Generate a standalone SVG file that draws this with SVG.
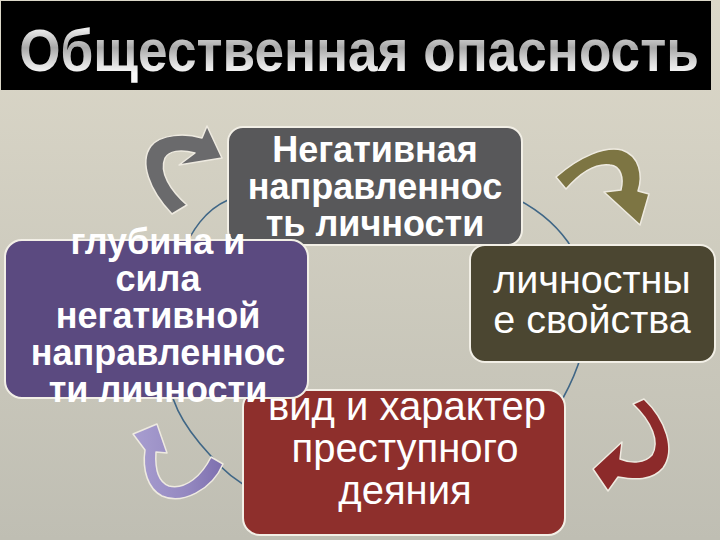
<svg xmlns="http://www.w3.org/2000/svg" width="720" height="540" viewBox="0 0 720 540">
<defs>
<linearGradient id="bg" x1="0" y1="0" x2="0" y2="1">
<stop offset="0" stop-color="#dcd8c9"/>
<stop offset="1" stop-color="#bfbeb3"/>
</linearGradient>
<linearGradient id="silver" gradientUnits="userSpaceOnUse" x1="0" y1="-44" x2="0" y2="2">
<stop offset="0" stop-color="#f4f4f4"/>
<stop offset="0.45" stop-color="#a8a8a8"/>
<stop offset="0.75" stop-color="#d8d8d8"/>
<stop offset="1" stop-color="#f8f8f8"/>
</linearGradient>
<linearGradient id="purpleArrow" x1="0" y1="0" x2="1" y2="0">
<stop offset="0" stop-color="#a89ed0"/>
<stop offset="0.6" stop-color="#9488c0"/>
<stop offset="1" stop-color="#7d6fae"/>
</linearGradient>
<style>
.box{stroke:#f2efe6;stroke-width:2}
.bold{font-family:"Liberation Sans",Arial,sans-serif;font-weight:bold;fill:#ffffff;text-anchor:middle;font-size:36px}
.reg{font-family:"Liberation Sans",Arial,sans-serif;fill:#ffffff;text-anchor:middle}
.arrow{stroke:#eeeae0;stroke-width:1.5;stroke-linejoin:round}
</style>
</defs>
<rect x="0" y="0" width="720" height="540" fill="url(#bg)"/>
<g id="title">
<rect x="1" y="1" width="710" height="89" fill="#000000"/>
<text transform="translate(359,71) scale(0.885,1)" x="0" y="0" font-family="Liberation Sans, Arial, sans-serif" font-weight="bold" font-size="60" fill="url(#silver)" text-anchor="middle">Общественная опасность</text>
</g>
<g id="connectors">
<path d="M375,170 C450,170 530,188 568,242 C592,280 598,335 563,398 C520,470 420,515 330,512 C290,510 240,492 210,455 C185,428 164,398 166,350 C167,300 170,280 180,257 C192,230 205,210 228,200 C270,180 320,170 375,170 Z" fill="none" stroke="#3f6686" stroke-width="1.6"/>
<path id="arrow-gray" class="arrow" d="M172,214 C149,190 139,162 151,146 C161,134 185,133 202,138 L207,126 L222,158 L179,165 L195,153 C180,149 169,151 165,158 C159,172 170,190 187,205 Z" fill="#6a6a6c"/>
<path id="arrow-olive" class="arrow" d="M556,177 C580,156 605,146 622,150 C640,156 643,176 638,191 L649,194 L640,225 L604,192 L621,190 C624,178 621,166 610,165 C596,163 581,172 566,189 Z" fill="#7d7543" stroke="#3d3a28"/>
<path id="arrow-red" class="arrow" d="M633,404 L644,399 C666,420 676,450 663,468 C652,481 635,480 618,477 L608,491 L593,469 L622,442 L620,459 C632,464 645,463 652,455 C660,442 652,422 633,404 Z" fill="#8c2a2a"/>
<path id="arrow-purple" class="arrow" d="M223,464 C212,490 182,505 162,496 C148,489 142,470 145,450 L133,434 L157,424 L167,453 L156,452 C155,468 158,482 169,486 C186,490 202,475 211,457 Z" fill="url(#purpleArrow)" stroke="#4a3f72" stroke-width="1"/>
</g>
<g id="node-top">
<rect class="box" x="228" y="127" width="294" height="118" rx="15" fill="#58585a"/>
<text class="bold" x="375" y="162">Негативная</text>
<text class="bold" x="375" y="199">направленнос</text>
<text class="bold" x="375" y="236">ть личности</text>
</g>
<g id="node-right">
<rect class="box" x="470" y="245" width="245" height="117" rx="15" fill="#4b4631"/>
<text class="reg" x="592" y="293" font-size="39.5">личностны</text>
<text class="reg" x="592" y="333" font-size="39.5">е свойства</text>
</g>
<g id="node-bottom">
<rect class="box" x="243" y="390" width="322" height="145" rx="17" fill="#8e2f2c"/>
<text class="reg" x="407" y="420" font-size="40">вид и характер</text>
<text class="reg" x="405" y="462" font-size="40">преступного</text>
<text class="reg" x="405" y="504" font-size="40">деяния</text>
</g>
<g id="node-left">
<rect class="box" x="5" y="240" width="303" height="158" rx="17" fill="#5b4a80"/>
<text class="bold" x="158" y="254">глубина и</text>
<text class="bold" x="158" y="291">сила</text>
<text class="bold" x="158" y="328">негативной</text>
<text class="bold" x="158" y="365">направленнос</text>
<text class="bold" x="158" y="402">ти личности</text>
</g>
</svg>
